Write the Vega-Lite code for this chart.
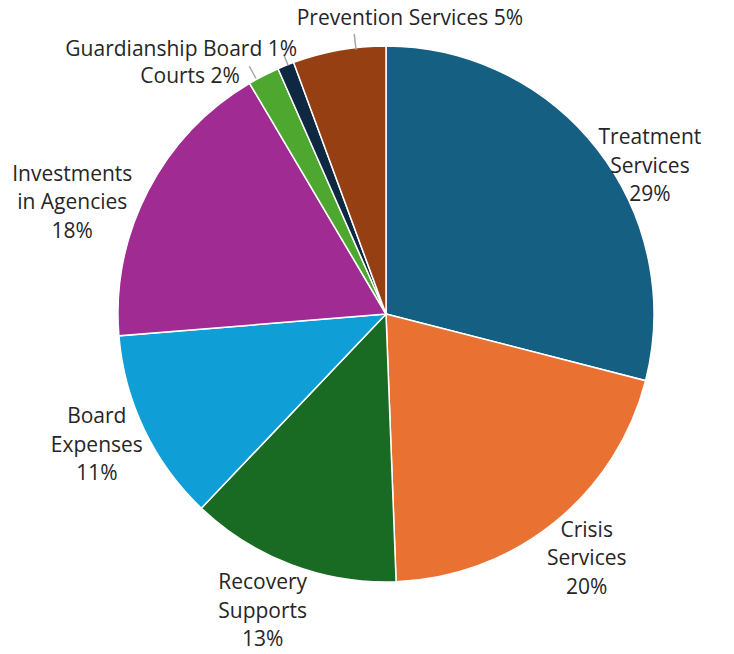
{
  "$schema": "https://vega.github.io/schema/vega-lite/v6.json",
  "width": 696,
  "height": 628,
  "autosize": {"type": "none"},
  "padding": {"left": 38, "top": 0, "right": 0, "bottom": 26},
  "background": "#FFFFFF",
  "view": {"stroke": null},
  "data": {
    "values": [
      {"category": "Treatment Services", "value": 29.0, "rank": 1, "label": "Treatment\nServices\n29%"},
      {"category": "Crisis Services", "value": 20.4, "rank": 2, "label": "Crisis\nServices\n20%"},
      {"category": "Recovery Supports", "value": 12.7, "rank": 3, "label": "Recovery\nSupports\n13%"},
      {"category": "Board Expenses", "value": 11.6, "rank": 4, "label": "Board\nExpenses\n11%"},
      {"category": "Investments in Agencies", "value": 17.8, "rank": 5, "label": "Investments\nin Agencies\n18%"},
      {"category": "Courts", "value": 1.9, "rank": 6, "label": "Courts 2%"},
      {"category": "Guardianship Board", "value": 1.0, "rank": 7, "label": "Guardianship Board 1%"},
      {"category": "Prevention Services", "value": 5.6, "rank": 8, "label": "Prevention Services 5%"}
    ]
  },
  "encoding": {
    "theta": {"field": "value", "type": "quantitative", "stack": true},
    "order": {"field": "rank", "type": "quantitative"}
  },
  "layer": [
    {
      "mark": {"type": "arc", "radius": 268, "stroke": "#FFFFFF", "strokeWidth": 1.5},
      "encoding": {
        "color": {
          "field": "category",
          "type": "nominal",
          "legend": null,
          "scale": {
            "domain": ["Treatment Services", "Crisis Services", "Recovery Supports", "Board Expenses", "Investments in Agencies", "Courts", "Guardianship Board", "Prevention Services"],
            "range": ["#156082", "#E97132", "#196B24", "#0F9ED5", "#A02B93", "#4EA72E", "#0E2841", "#963F12"]
          }
        }
      }
    },
    {
      "mark": {"type": "arc", "outerRadius": 282, "innerRadius": 266, "padAngle": 0.6, "fillOpacity": 0, "strokeWidth": 1.5, "thetaOffset": 0.063},
      "encoding": {"stroke": {"condition": {"test": "datum.category === 'Prevention Services'", "value": "#A6A6A6"}, "value": "transparent"}}
    },
    {
      "mark": {"type": "arc", "outerRadius": 279, "innerRadius": 267, "padAngle": 0.6, "fillOpacity": 0, "strokeWidth": 1.5, "thetaOffset": 0.008},
      "encoding": {"stroke": {"condition": {"test": "datum.category === 'Guardianship Board'", "value": "#A6A6A6"}, "value": "transparent"}}
    },
    {
      "mark": {"type": "arc", "outerRadius": 283, "innerRadius": 269, "padAngle": 0.6, "fillOpacity": 0, "strokeWidth": 1.5, "thetaOffset": -0.03},
      "encoding": {"stroke": {"condition": {"test": "datum.category === 'Courts'", "value": "#A6A6A6"}, "value": "transparent"}}
    },
    {
      "mark": {"type": "text", "radius": 315, "dx": 15, "dy": 17.5, "font": "Open Sans", "fontSize": 21, "lineHeight": 28.5, "align": "center", "baseline": "middle", "lineBreak": "\n", "color": "#262626"},
      "encoding": {"text": {"condition": {"test": "datum.category === 'Treatment Services'", "field": "label", "type": "nominal"}, "value": ""}}
    },
    {
      "mark": {"type": "text", "radius": 315, "dx": 3, "dy": -28.5, "font": "Open Sans", "fontSize": 21, "lineHeight": 28.5, "align": "center", "baseline": "middle", "lineBreak": "\n", "color": "#262626"},
      "encoding": {"text": {"condition": {"test": "datum.category === 'Crisis Services'", "field": "label", "type": "nominal"}, "value": ""}}
    },
    {
      "mark": {"type": "text", "radius": 315, "dx": -12, "dy": -25.5, "font": "Open Sans", "fontSize": 21, "lineHeight": 28.5, "align": "center", "baseline": "middle", "lineBreak": "\n", "color": "#262626"},
      "encoding": {"text": {"condition": {"test": "datum.category === 'Recovery Supports'", "field": "label", "type": "nominal"}, "value": ""}}
    },
    {
      "mark": {"type": "text", "radius": 315, "dx": -5, "dy": -32.5, "font": "Open Sans", "fontSize": 21, "lineHeight": 28.5, "align": "center", "baseline": "middle", "lineBreak": "\n", "color": "#262626"},
      "encoding": {"text": {"condition": {"test": "datum.category === 'Board Expenses'", "field": "label", "type": "nominal"}, "value": ""}}
    },
    {
      "mark": {"type": "text", "radius": 315, "dx": -34, "dy": 5.5, "font": "Open Sans", "fontSize": 21, "lineHeight": 28.5, "align": "center", "baseline": "middle", "lineBreak": "\n", "color": "#262626"},
      "encoding": {"text": {"condition": {"test": "datum.category === 'Investments in Agencies'", "field": "label", "type": "nominal"}, "value": ""}}
    },
    {
      "mark": {"type": "text", "radius": 315, "dx": -52, "dy": 43, "font": "Open Sans", "fontSize": 21, "lineHeight": 28.5, "align": "center", "baseline": "middle", "lineBreak": "\n", "color": "#262626"},
      "encoding": {"text": {"condition": {"test": "datum.category === 'Courts'", "field": "label", "type": "nominal"}, "value": ""}}
    },
    {
      "mark": {"type": "text", "radius": 315, "dx": -87, "dy": 28, "font": "Open Sans", "fontSize": 21, "lineHeight": 28.5, "align": "center", "baseline": "middle", "lineBreak": "\n", "color": "#262626"},
      "encoding": {"text": {"condition": {"test": "datum.category === 'Guardianship Board'", "field": "label", "type": "nominal"}, "value": ""}}
    },
    {
      "mark": {"type": "text", "radius": 315, "dx": 79, "dy": 15, "font": "Open Sans", "fontSize": 21, "lineHeight": 28.5, "align": "center", "baseline": "middle", "lineBreak": "\n", "color": "#262626"},
      "encoding": {"text": {"condition": {"test": "datum.category === 'Prevention Services'", "field": "label", "type": "nominal"}, "value": ""}}
    }
  ]
}
